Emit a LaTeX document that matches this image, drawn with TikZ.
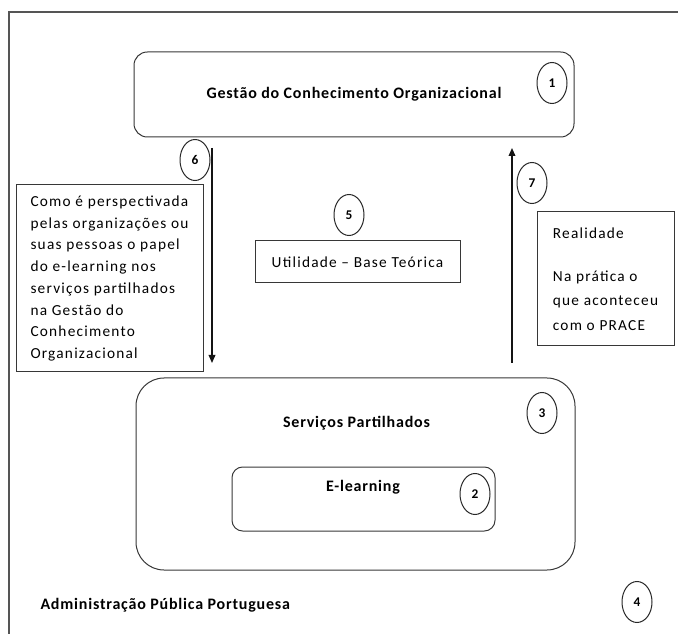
\documentclass[tikz,border=0pt]{standalone}
\usepackage{fontspec}
\setmainfont{Carlito}
\newfontfamily\headfont[LetterSpace=5]{Carlito}
\newfontfamily\bodyfont[LetterSpace=8]{Carlito}
\usetikzlibrary{shapes.geometric,arrows.meta}

\tikzset{every picture/.style={line width=0.75pt}}
\tikzset{
  frameline/.style={draw={rgb,255:red,85;green,85;blue,85}, line width=1.5},
  roundbox/.style={draw={rgb,255:red,55;green,55;blue,55}, rounded corners=#1, inner sep=0pt},
  plainbox/.style={draw={rgb,255:red,55;green,55;blue,55}, inner sep=0pt, font=\bodyfont\fontsize{11.5}{16.3}\selectfont},
  headtext/.style={inner sep=0.75pt, font=\headfont\bfseries\fontsize{12}{14}\selectfont},
  numoval/.style={draw={rgb,255:red,40;green,40;blue,40}, ellipse, minimum width=22.5pt, minimum height=30.75pt, inner sep=0pt, font=\bfseries\fontsize{10}{12}\selectfont},
  flowarrow/.style={draw={rgb,255:red,20;green,20;blue,20}, line width=1, -{Triangle[length=6pt,width=5pt]}}
}

\begin{document}
\begin{tikzpicture}[x=0.75pt,y=0.75pt,yscale=-1,xscale=1]
\useasboundingbox (0,0) rectangle (678,634);
\clip (0,0) rectangle (678,634);

%Shape: Rectangle [outer frame, runs past the page]
\draw [frameline] (9,12) rectangle (700,660);

%Shape: Rounded Rect [gestao]
\node [roundbox=10pt, minimum width=330pt, minimum height=63.75pt, headtext] (gestao) at (354,94.5) {Gestão do Conhecimento Organizacional};
%Shape: Rounded Rect [servicos]
\node [roundbox=21pt, minimum width=329.25pt, minimum height=144pt] (servicos) at (355.5,474) {};
%Shape: Rounded Rect [elearning]
\node [roundbox=8pt, minimum width=197.25pt, minimum height=48pt] (elearning) at (363.5,499) {};

% Text Node
\node [headtext] (servicostxt) at (356.5,423) {Serviços Partilhados};
% Text Node
\node [headtext] (elearningtxt) at (363,487) {E-learning};
% Text Node
\node [headtext, anchor=west] (admin) at (39,605) {Administração Pública Portuguesa};

%Shape: Rectangle [percecao]
\node [plainbox, minimum width=140.25pt, minimum height=140.25pt, align=left] (percecao) at (109.5,278.5) {Como é perspectivada\\pelas organizações ou\\suas pessoas o papel\\do e-learning nos\\serviços partilhados\\na Gestão do\\Conhecimento\\Organizacional};
%Shape: Rectangle [utilidade]
\node [plainbox, minimum width=153.75pt, minimum height=31.5pt] (utilidade) at (357.5,262) {Utilidade – Base Teórica};
%Shape: Rectangle [realidade]
\node [plainbox, minimum width=102.75pt, minimum height=100.5pt, align=left, font=\bodyfont\fontsize{11.5}{18.4}\selectfont] (realidade) at (605.5,279) {Realidade\\[13.8pt]Na prática o\\que aconteceu\\com o PRACE};

%Straight Lines [arrow 6, down]
\coordinate (seisini) at (212,148);
\coordinate (seisfim) at (212,363);
\draw [flowarrow] (seisini) -- (seisfim);
%Straight Lines [arrow 7, up]
\coordinate (seteini) at (512,363);
\coordinate (setefim) at (512,148);
\draw [flowarrow] (seteini) -- (setefim);

%Shape: Ellipse [numbers]
\node [numoval] (num1) at (552,83) {1};
\node [numoval] (num2) at (475,494) {2};
\node [numoval] (num3) at (542,413) {3};
\node [numoval] (num4) at (637,602) {4};
\node [numoval] (num5) at (349,215) {5};
\node [numoval] (num6) at (195,160) {6};
\node [numoval] (num7) at (532,183) {7};

\end{tikzpicture}
\end{document}
